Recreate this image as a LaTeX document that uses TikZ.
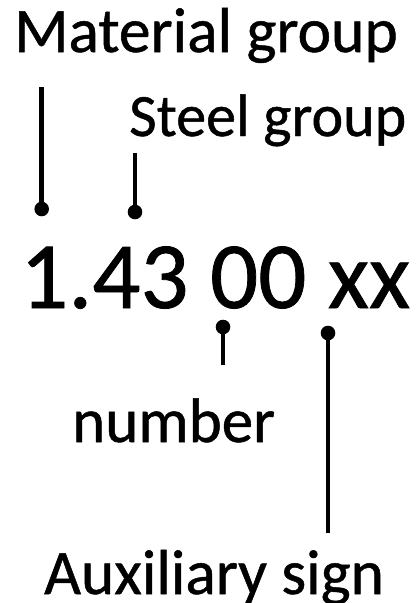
\documentclass[tikz,border=0pt]{standalone}
\usepackage{fontspec}
\setmainfont{Carlito}
\newfontfamily\lblfont[FakeBold=0.8]{Carlito}
\begin{document}
\begin{tikzpicture}[x=1pt,y=-1pt,
  label/.style={anchor=base west,inner sep=0pt,font=\lblfont\fontsize{#1}{#1}\selectfont},
  label/.default=60,
  code/.style={anchor=base west,inner sep=0pt,font=\lblfont\fontsize{95}{95}\selectfont},
  lead/.style={line width=4.7pt},
  pin/.style={fill=black}]
\useasboundingbox (0,0) rectangle (420,603);
% labels
\node[label=63.5] (mat) at (14,52) {Material group};
\node[label=60] (stl) at (129,136) {Steel group};
\node[code] (num) at (20,308) {1.43 00 xx};
\node[label=63] (nbr) at (72,442) {number};
\node[label=63.5] (aux) at (44,594) {Auxiliary sign};
% pin points and free line ends
\coordinate (p1) at (41.7,209);
\coordinate (e1) at (41.7,87);
\coordinate (p2) at (135,212);
\coordinate (e2) at (135,153);
\coordinate (p3) at (223,327);
\coordinate (e3) at (223,365);
\coordinate (p4) at (328,333);
\coordinate (e4) at (328,533);
% leader lines with round pins
\foreach \i in {1,2,3,4} {
  \draw[lead] (e\i) -- (p\i);
  \fill[pin] (p\i) circle (7.3pt);
}
\end{tikzpicture}
\end{document}
